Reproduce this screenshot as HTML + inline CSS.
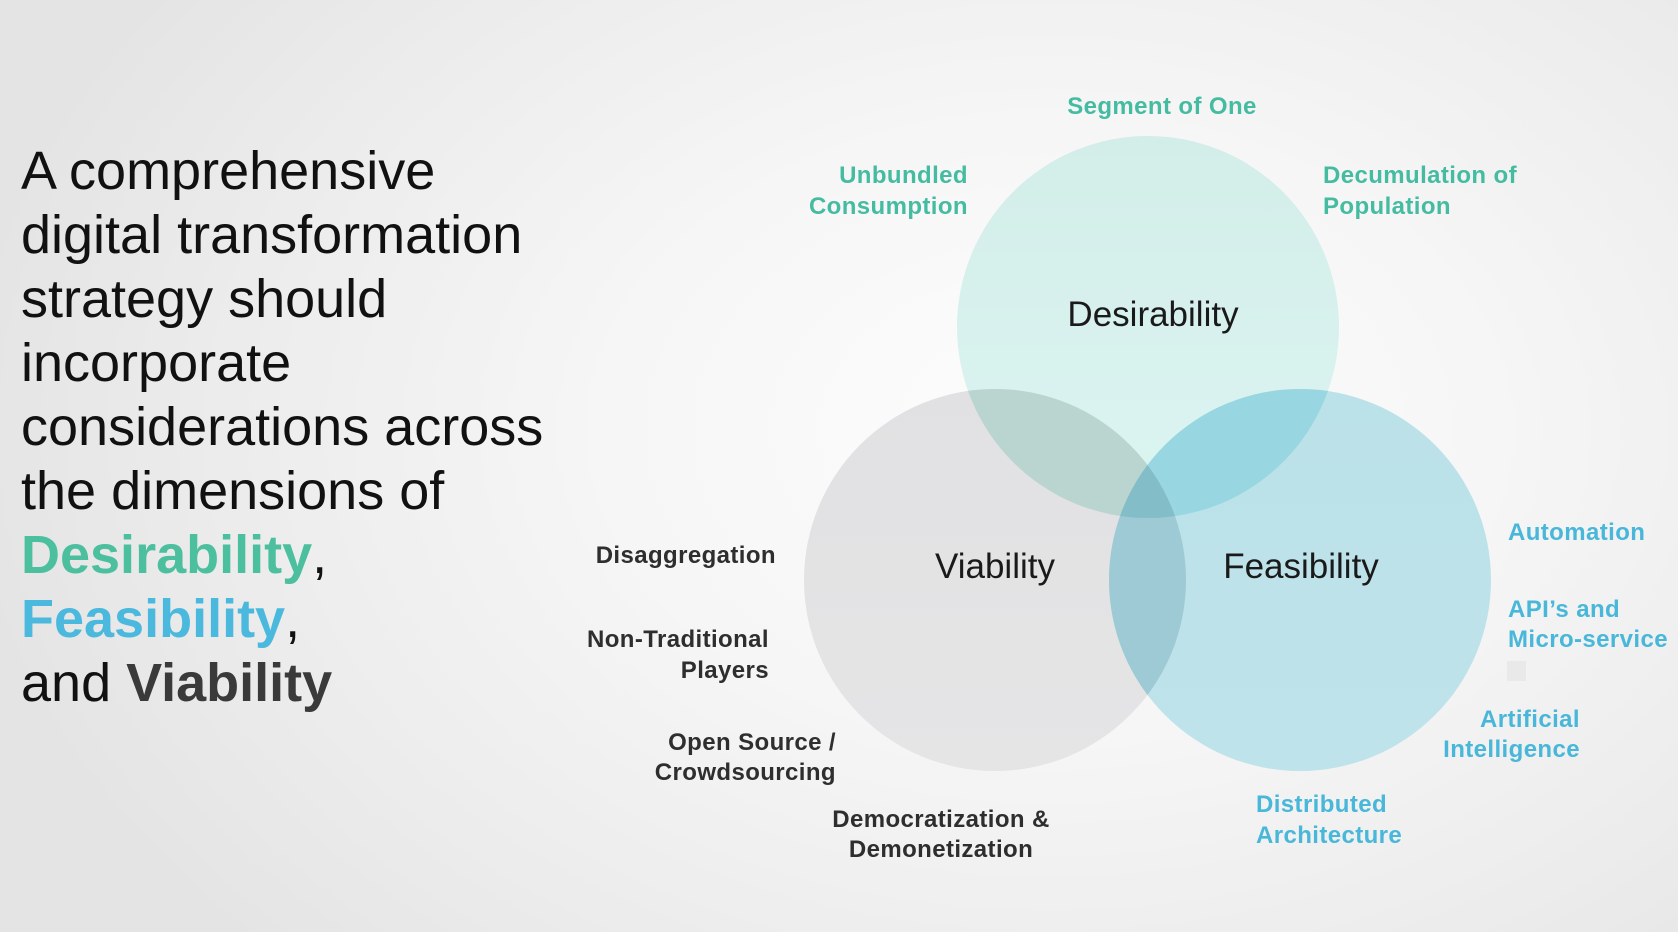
<!DOCTYPE html>
<html>
<head>
<meta charset="utf-8">
<style>
  html, body {
    margin: 0;
    padding: 0;
    width: 1678px;
    height: 932px;
    overflow: hidden;
  }
  body {
    background: radial-gradient(ellipse 1100px 760px at 1050px 430px, #fdfdfd 0%, #f6f6f6 40%, #ececec 75%, #e4e4e4 100%);
  }
  svg {
    position: absolute;
    left: 0;
    top: 0;
  }
  .h {
    font-family: "Liberation Sans", Arial, sans-serif;
    font-size: 54px;
    fill: #111111;
  }
  .cl {
    font-family: "Liberation Sans", Arial, sans-serif;
    font-size: 35px;
    fill: #1a1a1a;
  }
  .lb {
    font-family: "Liberation Sans", Arial, sans-serif;
    font-size: 24px;
    font-weight: bold;
    letter-spacing: 0.4px;
  }
  .teal { fill: #45bca2; }
  .blue { fill: #48b7d9; }
  .dark { fill: #2e2e2e; }
</style>
</head>
<body>
<svg width="1678" height="932" viewBox="0 0 1678 932" xmlns="http://www.w3.org/2000/svg">
  <defs>
    <linearGradient id="gD" x1="0" y1="0" x2="0" y2="1">
      <stop offset="0" stop-color="#d3ede9"/>
      <stop offset="1" stop-color="#dcf5f2"/>
    </linearGradient>
    <linearGradient id="gV" x1="0" y1="0" x2="0" y2="1">
      <stop offset="0" stop-color="#e1e1e3"/>
      <stop offset="1" stop-color="#e5e5e6"/>
    </linearGradient>
    <linearGradient id="gF" x1="0" y1="0" x2="0" y2="1">
      <stop offset="0" stop-color="#bbe1e9"/>
      <stop offset="1" stop-color="#bfe3ea"/>
    </linearGradient>
    <clipPath id="cD"><circle cx="1148" cy="327" r="191"/></clipPath>
    <clipPath id="cV"><circle cx="995" cy="580" r="191"/></clipPath>
    <clipPath id="cF"><circle cx="1300" cy="580" r="191"/></clipPath>
  </defs>

  <!-- Heading -->
  <text class="h" x="21" y="189">A comprehensive</text>
  <text class="h" x="21" y="253">digital transformation</text>
  <text class="h" x="21" y="317">strategy should</text>
  <text class="h" x="21" y="381">incorporate</text>
  <text class="h" x="21" y="445">considerations across</text>
  <text class="h" x="21" y="509">the dimensions of</text>
  <text class="h" x="21" y="573"><tspan font-weight="bold" fill="#4cbf9f">Desirability</tspan>,</text>
  <text class="h" x="21" y="637"><tspan font-weight="bold" fill="#4ab9dd">Feasibility</tspan>,</text>
  <text class="h" x="21" y="701">and <tspan font-weight="bold" fill="#3a3a3a">Viability</tspan></text>

  <!-- Venn circles -->
  <circle cx="1148" cy="327" r="191" fill="url(#gD)"/>
  <circle cx="995" cy="580" r="191" fill="url(#gV)"/>
  <circle cx="1300" cy="580" r="191" fill="url(#gF)"/>
  <!-- overlaps -->
  <circle cx="995" cy="580" r="191" fill="#bad5d0" clip-path="url(#cD)"/>
  <circle cx="1300" cy="580" r="191" fill="#98d7e1" clip-path="url(#cD)"/>
  <circle cx="1300" cy="580" r="191" fill="#9ecad5" clip-path="url(#cV)"/>
  <g clip-path="url(#cD)">
    <circle cx="1300" cy="580" r="191" fill="#83bdc7" clip-path="url(#cV)"/>
  </g>

  <!-- circle labels -->
  <text class="cl" x="1153" y="326" text-anchor="middle">Desirability</text>
  <text class="cl" x="995" y="578" text-anchor="middle">Viability</text>
  <text class="cl" x="1301" y="578" text-anchor="middle">Feasibility</text>

  <!-- Desirability labels -->
  <text class="lb teal" x="1162" y="114" text-anchor="middle">Segment of One</text>
  <text class="lb teal" x="968" y="183" text-anchor="end">Unbundled</text>
  <text class="lb teal" x="968" y="214" text-anchor="end">Consumption</text>
  <text class="lb teal" x="1323" y="183">Decumulation of</text>
  <text class="lb teal" x="1323" y="214">Population</text>

  <!-- Feasibility labels -->
  <text class="lb blue" x="1508" y="540">Automation</text>
  <text class="lb blue" x="1508" y="617">API’s and</text>
  <text class="lb blue" x="1508" y="647">Micro-service</text>
  <rect x="1507" y="661" width="19" height="20" fill="#e9e9e9"/>
  <text class="lb blue" x="1580" y="727" text-anchor="end">Artificial</text>
  <text class="lb blue" x="1580" y="757" text-anchor="end">Intelligence</text>
  <text class="lb blue" x="1256" y="812">Distributed</text>
  <text class="lb blue" x="1256" y="843">Architecture</text>

  <!-- Viability labels -->
  <text class="lb dark" x="776" y="563" text-anchor="end">Disaggregation</text>
  <text class="lb dark" x="769" y="647" text-anchor="end">Non-Traditional</text>
  <text class="lb dark" x="769" y="678" text-anchor="end">Players</text>
  <text class="lb dark" x="836" y="750" text-anchor="end">Open Source /</text>
  <text class="lb dark" x="836" y="780" text-anchor="end">Crowdsourcing</text>
  <text class="lb dark" x="941" y="827" text-anchor="middle">Democratization &amp;</text>
  <text class="lb dark" x="941" y="857" text-anchor="middle">Demonetization</text>
</svg>
</body>
</html>
